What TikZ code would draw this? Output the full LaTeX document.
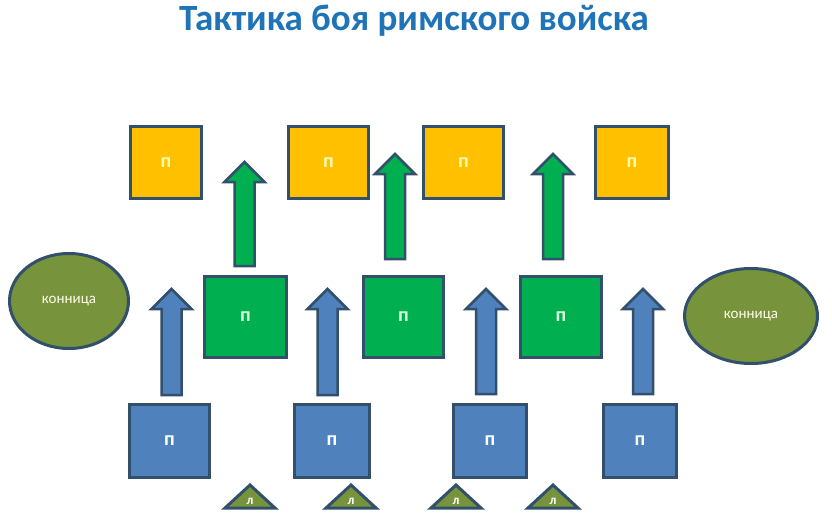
\documentclass[tikz,border=0pt]{standalone}
\usepackage{fontspec}
\setmainfont{Carlito}
\usepackage{tikz}
\usetikzlibrary{shapes.geometric}

\definecolor{edge}{RGB}{50,80,108}
\definecolor{titleblue}{RGB}{31,115,183}
\definecolor{gold}{RGB}{255,192,0}
\definecolor{grass}{RGB}{0,176,80}
\definecolor{steel}{RGB}{79,129,189}
\definecolor{olive}{RGB}{119,147,60}

\tikzset{
  unit/.style={draw=edge, line width=3pt, rectangle, inner sep=0pt,
    font=\bfseries\fontsize{20}{20}\selectfont},
  backsq/.style={unit, fill=gold, text=yellow!30},
  midsq/.style={unit, fill=grass, text=green!15},
  frontsq/.style={unit, fill=steel, text=white},
  horse/.style={draw=edge, line width=3pt, ellipse, fill=olive, text=white!92!yellow,
    inner sep=0pt, font=\fontsize{15}{15}\selectfont},
  light/.style={draw=edge, line width=3pt, fill=olive, line join=miter},
}

% block arrow: centre x, bottom y, tip y, fill colour
\newcommand{\blockarrow}[4]{%
  \draw[draw=edge, line width=2.5pt, fill=#4, line join=miter]
    ({#1-10},#2) -- ({#1-10},{#3+20}) -- ({#1-20},{#3+20}) -- (#1,#3)
    -- ({#1+20},{#3+20}) -- ({#1+10},{#3+20}) -- ({#1+10},#2) -- cycle;}

\begin{document}
\begin{tikzpicture}[x=1pt,y=-1pt]
  \useasboundingbox (0,0) rectangle (832,525);

  \node (title) at (414,21) [text=titleblue, font=\bfseries\fontsize{37}{37}\selectfont]
    {Тактика боя римского войска};

  % back line
  \node (back1) at (166,162.5) [backsq, minimum width=71pt, minimum height=72pt] {п};
  \node (back2) at (328.5,162.5) [backsq, minimum width=80pt, minimum height=72pt] {п};
  \node (back3) at (463.5,162.5) [backsq, minimum width=80pt, minimum height=72pt] {п};
  \node (back4) at (632,162.5) [backsq, minimum width=73pt, minimum height=72pt] {п};

  % middle line
  \node (mid1) at (245.5,317) [midsq, minimum width=82pt, minimum height=81pt] {п};
  \node (mid2) at (403.5,317) [midsq, minimum width=80pt, minimum height=81pt] {п};
  \node (mid3) at (561,317) [midsq, minimum width=81pt, minimum height=81pt] {п};

  % front line
  \node (front1) at (169.5,441) [frontsq, minimum width=80pt, minimum height=73pt] {п};
  \node (front2) at (332,441) [frontsq, minimum width=75pt, minimum height=73pt] {п};
  \node (front3) at (490,441) [frontsq, minimum width=73pt, minimum height=73pt] {п};
  \node (front4) at (640,441) [frontsq, minimum width=73pt, minimum height=73pt] {п};

  % cavalry
  \node (horseleft) at (69,301) [horse, minimum width=119pt, minimum height=95pt] {конница};
  \node (horseright) at (751,316) [horse, minimum width=133pt, minimum height=95pt] {конница};

  % arrows
  \blockarrow{244.5}{266}{162}{grass}
  \blockarrow{395}{259}{154}{grass}
  \blockarrow{553}{259}{154}{grass}
  \blockarrow{171.5}{395}{289}{steel}
  \blockarrow{327.5}{395}{289}{steel}
  \blockarrow{486}{394}{289}{steel}
  \blockarrow{643}{394}{289}{steel}

  % light troops
  \foreach \x/\n in {250/1, 351/2, 456/3, 553/4} {
    \draw[light] (\x-25,508) -- (\x,485) -- (\x+25,508) -- cycle;
    \node (light\n) at (\x,501) [text=white, font=\bfseries\fontsize{13}{13}\selectfont] {л};
  }
\end{tikzpicture}
\end{document}
